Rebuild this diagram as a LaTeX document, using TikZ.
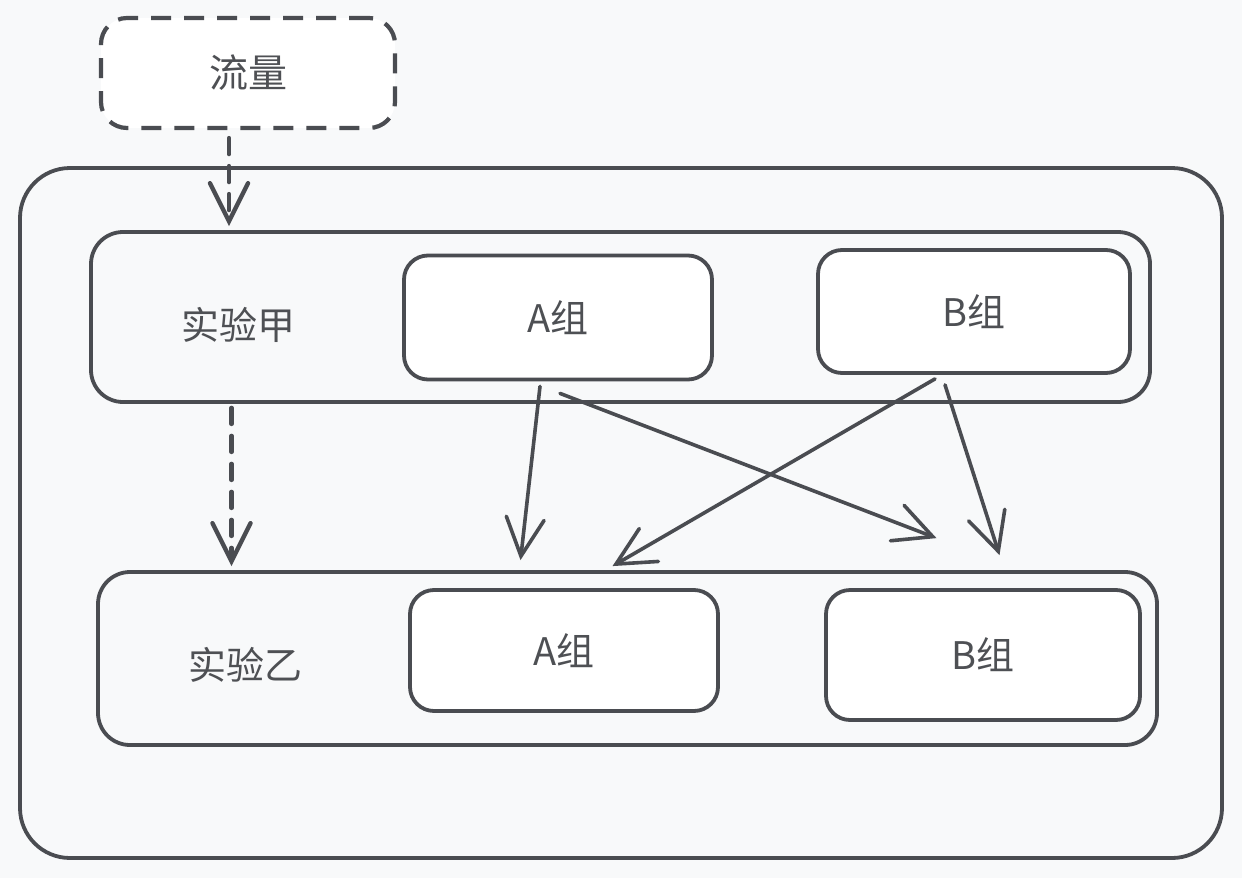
\documentclass[tikz,border=0pt]{standalone}
\usepackage{fontspec}
\setmainfont{Noto Sans CJK SC}
\usetikzlibrary{arrows.meta,calc}
\definecolor{bgc}{HTML}{F8F9FA}
\definecolor{ink}{HTML}{4A4C51}
\definecolor{txt}{HTML}{4E5054}
\tikzset{
  box/.style={draw=ink, line width=3.8pt, rounded corners=#1, inner sep=0pt},
  grp/.style={box=24pt, fill=white, minimum width=308pt, minimum height=124pt,
     font=\fontsize{38}{44}\selectfont, text=txt},
  lbl/.style={font=\fontsize{38}{44}\selectfont, text=txt},
  conn/.style={draw=ink, line width=3.6pt, line cap=round,
     -{Straight Barb[length=38pt,width=38pt,line cap=round]}},
  dconn/.style={conn, line width=4.4pt, dash pattern=on 16pt off 12pt},
}
\begin{document}
\begin{tikzpicture}[x=1pt,y=-1pt]
\useasboundingbox[fill=bgc] (0,0) rectangle (1242,878);
% outer container
\node[box=50pt, minimum width=1202pt, minimum height=690pt] (outer) at (621,513) {};
% traffic
\node[box=26pt, fill=white, line width=4.2pt, dash pattern=on 20pt off 13pt, minimum width=294pt, minimum height=110pt,
  font=\fontsize{39}{46}\selectfont, text=txt] (flow) at (248,73) {流量};
% experiment boxes
\node[box=32pt, minimum width=1059pt, minimum height=170pt] (expA) at (620.5,317) {};
\node[lbl] (expAl) at (238,325) {实验甲};
\node[box=32pt, minimum width=1059pt, minimum height=173pt] (expB) at (627.5,658.5) {};
\node[lbl] (expBl) at (245,665) {实验乙};
% groups
\node[grp] (aA) at (558,317.5) {\itshape A组};
\node[grp, minimum width=312pt, minimum height=123pt] (aB) at (974,311.5) {B组};
\node[grp, minimum height=121pt] (bA) at (564,650.5) {\itshape A组};
\node[grp, minimum width=314pt, minimum height=130pt] (bB) at (983,655) {B组};
% dashed flows
\draw[dconn] ([xshift=-19pt,yshift=-8pt]flow.south) -- ([xshift=-392pt,yshift=-60pt]outer.north);
\draw[dconn] ([xshift=-389pt,yshift=-4pt]expA.south) -- ([xshift=-396pt,yshift=4pt]expB.north);
% cross arrows
\draw[conn] ([xshift=-18pt,yshift=-5pt]aA.south) -- ([xshift=-107pt,yshift=10pt]expB.north);
\draw[conn] ([xshift=2pt,yshift=-12pt]aA.south) -- ([xshift=309pt,yshift=32pt]expB.north);
\draw[conn] ([xshift=-39pt,yshift=-4pt]aB.south) -- ([xshift=-15pt,yshift=4pt]expB.north);
\draw[conn] ([xshift=-29pt,yshift=-10pt]aB.south) -- ([xshift=372pt,yshift=15pt]expB.north);
\end{tikzpicture}
\end{document}
